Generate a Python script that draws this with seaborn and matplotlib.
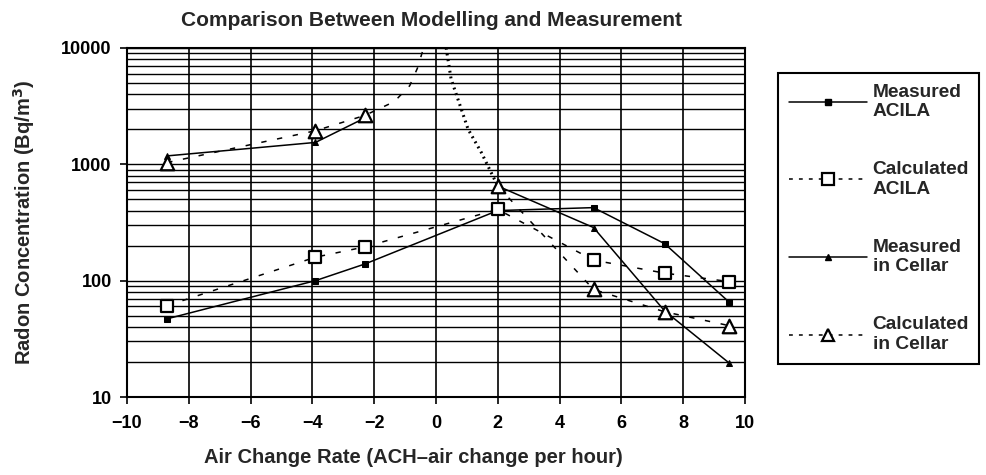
import matplotlib
matplotlib.use("Agg")
import pandas as pd
import matplotlib.pyplot as plt
from matplotlib.lines import Line2D
from matplotlib.ticker import LogLocator, NullFormatter
import seaborn as sns

# values (Bq/m3 against air change rate)
ach_points = [-8.7, -3.9, -2.3, 2.0, 5.1, 7.4, 9.5]
measured_acila = [47, 100, 139, 400, 424, 208, 65]
calculated_acila = [61, 159, 195, 409, 150, 116, 98]
measured_cellar = [1180, 1540, 2500, 650, 286, 55, 19.5]
cellar_segment = [1, 1, 1, 2, 2, 2, 2]   # measured cellar line is broken around ACH = 0
calculated_cellar = [1035, 1940, 2630, 650, 84, 54, 41]

# calculated cellar curve runs off the top of the chart near ACH = 0
curve_left_x = [-1.35, -0.85, -0.6, -0.4]
curve_left_y = [3450, 4730, 6690, 10000]
curve_right_x = [0.33, 0.49, 0.71, 1.04, 1.47, 2.0]
curve_right_y = [10000, 5400, 3630, 2000, 1260, 650]

x_ticks = [-10, -8, -6, -4, -2, 0, 2, 4, 6, 8, 10]
y_ticks = [10, 100, 1000, 10000]

legend_labels = ["Measured\nACILA", "Calculated\nACILA", "Measured\nin Cellar", "Calculated\nin Cellar"]

sns.set_style("ticks")
plt.rcParams['font.family'] = ['Liberation Sans', 'DejaVu Sans']

fig = plt.figure(figsize=(9.87, 4.75), dpi=100)
ax = fig.add_axes([0.1287, 0.1642, 0.626, 0.735])
ax.set_yscale('log')

dash = (0, (3.5, 7))
lw = 1.1

# measured ACILA
sns.lineplot(x=ach_points, y=measured_acila, ax=ax, sort=False, color='black', linewidth=lw,
             marker='s', markersize=4.5, markeredgecolor='black', zorder=3)

# calculated ACILA
sns.lineplot(x=ach_points, y=calculated_acila, ax=ax, sort=False, color='black', linewidth=lw,
             linestyle=dash, zorder=3)

# measured in cellar, two pieces
cellar_df = pd.DataFrame({'ach': ach_points, 'radon': measured_cellar, 'segment': cellar_segment})
sns.lineplot(data=cellar_df, x='ach', y='radon', units='segment', estimator=None, ax=ax, sort=False,
             color='black', linewidth=lw, marker='^', markersize=4.5, markeredgecolor='black', zorder=3)

# calculated in cellar
sns.lineplot(x=ach_points[:3] + curve_left_x, y=calculated_cellar[:3] + curve_left_y, ax=ax, sort=False,
             color='black', linewidth=lw, linestyle=dash, zorder=3)
sns.lineplot(x=curve_right_x, y=curve_right_y, ax=ax, sort=False,
             color='black', linewidth=2.2, linestyle=(0, (0.6, 1.3)), zorder=3)
sns.lineplot(x=ach_points[3:], y=calculated_cellar[3:], ax=ax, sort=False,
             color='black', linewidth=lw, linestyle=dash, zorder=3)

# open markers on top
sns.scatterplot(x=ach_points, y=calculated_acila, ax=ax, marker='s', s=70, color='white',
                edgecolor='black', linewidth=1.6, zorder=4)
sns.scatterplot(x=ach_points, y=calculated_cellar, ax=ax, marker='^', s=95, color='white',
                edgecolor='black', linewidth=1.6, zorder=4)

ax.set_xlim(-10, 10)
ax.set_ylim(10, 10000)
ax.set_xticks(x_ticks)
ax.set_yticks(y_ticks, labels=[str(v) for v in y_ticks])
ax.yaxis.set_minor_locator(LogLocator(base=10, subs=range(2, 10)))
ax.yaxis.set_minor_formatter(NullFormatter())

ax.set_axisbelow(True)
ax.grid(True, which='both', axis='y', color='black', linewidth=1.0)
ax.grid(True, which='major', axis='x', color='black', linewidth=1.2)
for sp in ax.spines.values():
    sp.set_linewidth(1.5)
    sp.set_color('black')

ax.tick_params(axis='both', which='major', direction='out', length=5, width=1.2, colors='black',
               labelsize=13)
ax.tick_params(axis='x', which='major', pad=8)
ax.tick_params(axis='y', which='major', pad=6)
ax.tick_params(axis='y', which='minor', length=0)
for lab in ax.get_xticklabels() + ax.get_yticklabels():
    lab.set_fontweight('bold')

ax.set_xlabel('Air Change Rate (ACH–air change per hour)', fontsize=14.5, fontweight='bold')
ax.xaxis.set_label_coords(0.463, -0.145)
ax.set_ylabel('Radon Concentration (Bq/m$^\\mathbf{3}$)', fontsize=14.5, fontweight='bold')
ax.yaxis.set_label_coords(-0.145, 0.5)

fig.text(0.437, 1 - 20 / 475, 'Comparison Between Modelling and Measurement', ha='center', va='center',
         fontsize=15, fontweight='bold')

handles = [
    Line2D([], [], color='black', linewidth=lw, marker='s', markersize=4.5),
    Line2D([], [], color='black', linewidth=lw, linestyle=(0, (2.5, 4)), marker='s', markersize=8,
           markerfacecolor='white', markeredgewidth=1.6),
    Line2D([], [], color='black', linewidth=lw, marker='^', markersize=4.5),
    Line2D([], [], color='black', linewidth=lw, linestyle=(0, (2.5, 4)), marker='^', markersize=8.5,
           markerfacecolor='white', markeredgewidth=1.6),
]
leg = fig.legend(handles, legend_labels, loc='upper left', bbox_to_anchor=(778 / 987, 1 - 73 / 475),
                 frameon=True, fancybox=False, edgecolor='black', framealpha=1,
                 prop={'weight': 'bold', 'size': 13.75}, handlelength=4.1, handletextpad=0.3,
                 labelspacing=2.15, borderpad=0.55, borderaxespad=0)
leg.get_frame().set_linewidth(1.5)

fig.savefig('out.png', dpi=100)
